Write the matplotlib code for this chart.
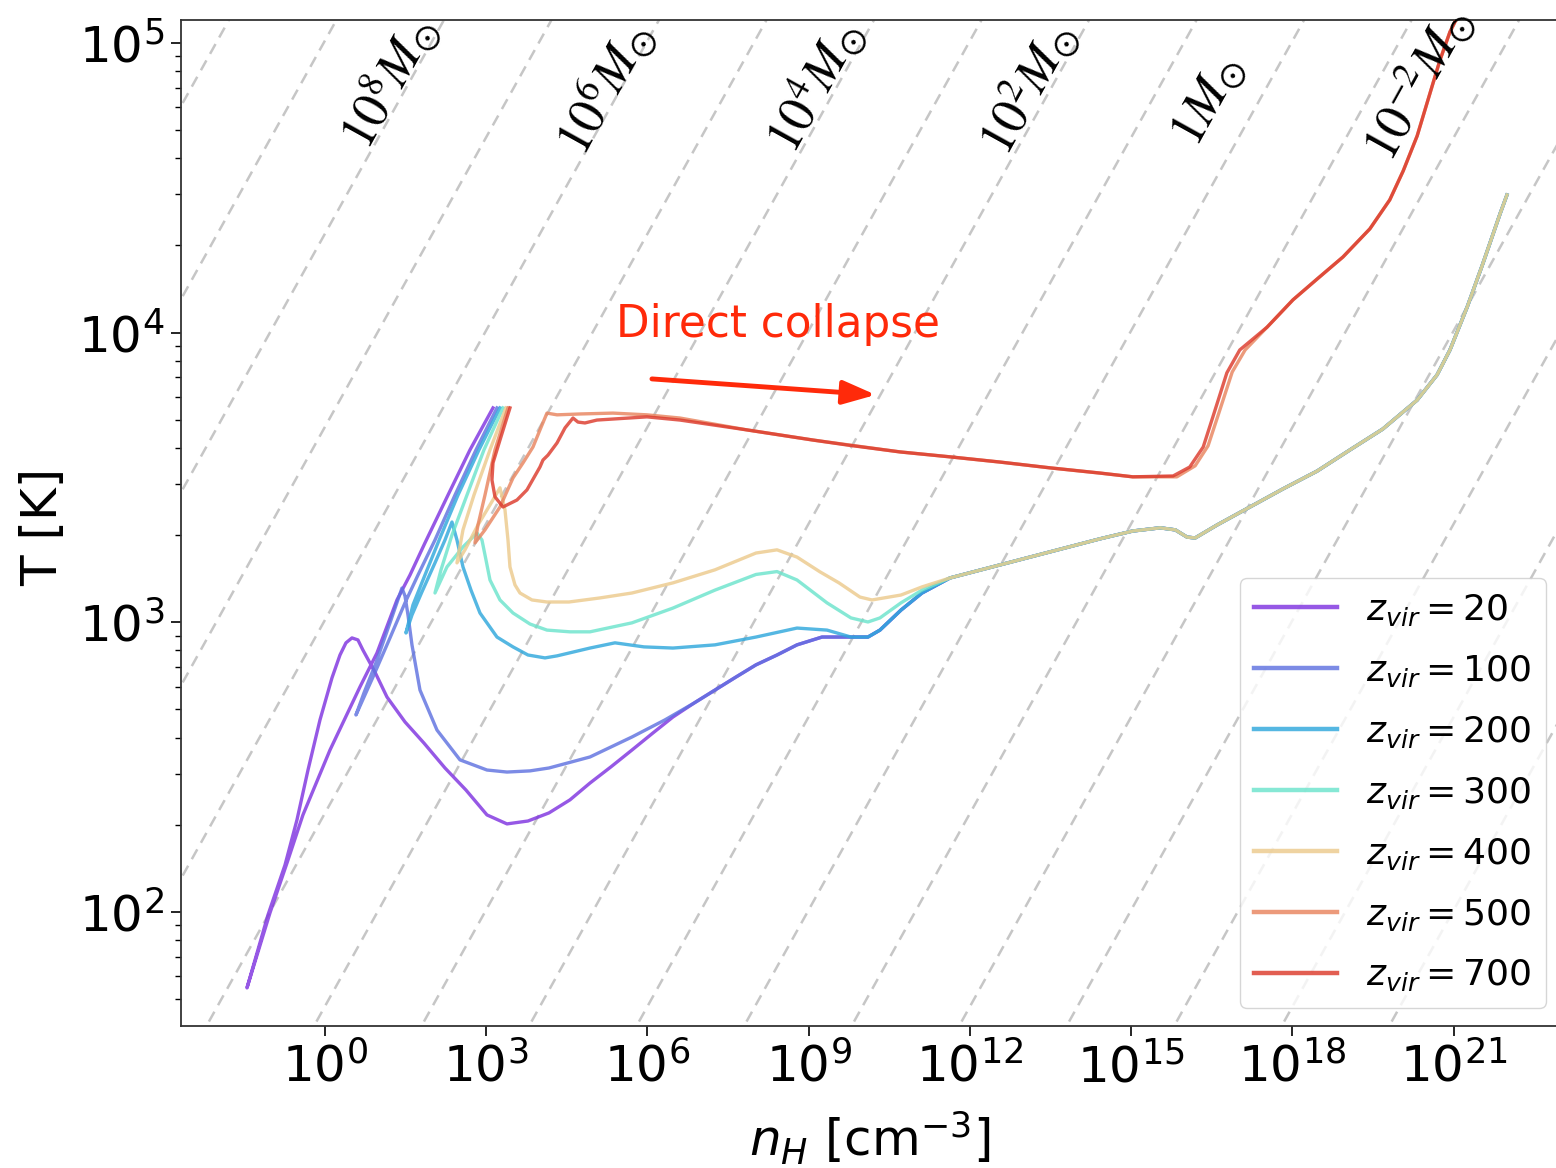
import numpy as np
import matplotlib
matplotlib.use('Agg')
import matplotlib.pyplot as plt
from matplotlib.ticker import NullLocator

# virialization redshifts and line colours
z_vir = [20, 100, 200, 300, 400, 500, 700]
colors = ['#7f33e0', '#5f72e0', '#2fa8dc', '#6ce4cc', '#ecca8c', '#e8845e', '#dc3a2c']

# early part of each track (log10 n_H [cm^-3], log10 T [K])
logn_z20 = [3.129, 2.701, 2.292, 1.864, 1.585, 1.343, 0.971, 0.655, 0.097, -0.406, -0.703, -1.019, -1.447,
            -1.056, -0.740, -0.517, -0.312, -0.089, 0.134, 0.283, 0.394, 0.506, 0.617, 0.710, 0.934, 1.157,
            1.492, 1.845, 2.236, 2.626, 3.017, 3.389, 3.780, 4.171, 4.561, 4.933, 5.324, 5.714, 6.105, 6.477,
            6.868, 7.258, 7.649, 8.021, 8.412, 8.784, 9.249, 9.788, 10.104, 10.327, 10.718, 11.109]
logT_z20 = [3.740, 3.595, 3.439, 3.274, 3.163, 3.077, 2.894, 2.777, 2.559, 2.335, 2.169, 1.997, 1.738,
            1.990, 2.162, 2.318, 2.490, 2.663, 2.808, 2.887, 2.929, 2.946, 2.939, 2.904, 2.828, 2.742,
            2.656, 2.583, 2.497, 2.421, 2.335, 2.304, 2.314, 2.342, 2.387, 2.445, 2.501, 2.559, 2.618, 2.673,
            2.721, 2.766, 2.811, 2.853, 2.887, 2.922, 2.949, 2.949, 2.949, 2.973, 3.042, 3.101]

logn_z100 = [3.203, 2.813, 2.422, 2.050, 1.734, 1.492, 1.213, 0.897, 0.580,
             0.729, 0.952, 1.213, 1.436, 1.492, 1.548, 1.622, 1.771, 2.087, 2.515, 3.017, 3.389, 3.817,
             4.171, 4.933, 5.714, 6.328, 6.868, 7.258, 7.649, 8.021, 8.412, 8.784, 9.249, 9.788, 10.104,
             10.327, 10.718, 11.109]
logT_z100 = [3.740, 3.595, 3.439, 3.284, 3.163, 3.067, 2.946, 2.811, 2.680,
             2.756, 2.860, 2.998, 3.118, 3.091, 3.025, 2.922, 2.766, 2.628, 2.525, 2.490, 2.483, 2.487,
             2.497, 2.535, 2.604, 2.663, 2.721, 2.766, 2.811, 2.853, 2.887, 2.922, 2.949, 2.949, 2.949,
             2.973, 3.042, 3.101]

logn_z200 = [3.259, 2.868, 2.478, 2.143, 1.864, 1.641, 1.510, 1.622, 1.808, 2.050, 2.236, 2.366, 2.459,
             2.571, 2.720, 2.887, 3.203, 3.501, 3.780, 4.096, 4.320, 4.933, 5.398, 5.938, 6.477, 7.258,
             8.021, 8.784, 9.342, 9.788, 10.104, 10.327, 10.718, 11.109]
logT_z200 = [3.740, 3.595, 3.439, 3.291, 3.163, 3.060, 2.963, 3.025, 3.105, 3.205, 3.284, 3.346, 3.284,
             3.191, 3.111, 3.032, 2.949, 2.915, 2.887, 2.877, 2.884, 2.911, 2.929, 2.915, 2.911, 2.922,
             2.949, 2.980, 2.973, 2.949, 2.949, 2.973, 3.042, 3.101]

logn_z300 = [3.315, 2.961, 2.645, 2.366, 2.162, 2.050, 2.273, 2.571, 2.831, 2.924, 2.999, 3.073, 3.259,
             3.501, 3.817, 4.133, 4.561, 4.933, 5.714, 6.477, 7.258, 8.021, 8.412, 8.784, 9.342, 9.788,
             10.104, 10.327, 10.718, 11.109]
logT_z300 = [3.740, 3.595, 3.439, 3.301, 3.181, 3.101, 3.191, 3.260, 3.308, 3.284, 3.215, 3.146, 3.077,
             3.032, 2.994, 2.973, 2.967, 2.967, 2.998, 3.049, 3.111, 3.165, 3.175, 3.146, 3.067, 3.015,
             3.001, 3.015, 3.067, 3.111]

logn_z400 = [3.371, 3.073, 2.775, 2.571, 2.459, 2.608, 2.850, 3.073, 3.259, 3.352, 3.408, 3.445, 3.538,
             3.631, 3.854, 4.133, 4.543, 5.119, 5.714, 6.477, 7.258, 8.021, 8.412, 8.784, 9.212, 9.565,
             9.955, 10.179, 10.718, 11.109]
logT_z400 = [3.740, 3.595, 3.439, 3.319, 3.205, 3.250, 3.336, 3.405, 3.464, 3.388, 3.284, 3.191, 3.129,
             3.101, 3.077, 3.070, 3.070, 3.084, 3.101, 3.136, 3.181, 3.239, 3.250, 3.225, 3.174, 3.136,
             3.087, 3.077, 3.094, 3.122]

logn_z500 = [3.408, 3.166, 2.980, 2.850, 2.794, 2.980, 3.259, 3.501, 3.687, 3.873, 4.003, 4.133, 4.320,
             4.747, 5.361, 5.993, 6.607, 7.853, 9.081, 10.70, 11.63, 12.56, 13.49, 14.42, 15.03, 15.85,
             16.19, 16.43, 16.62, 16.88, 17.12, 17.53, 18.01, 18.46, 18.94, 19.44, 19.81, 20.06, 20.32,
             20.56, 20.74, 20.93, 21.06]
logT_z500 = [3.740, 3.595, 3.439, 3.336, 3.274, 3.319, 3.398, 3.498, 3.550, 3.605, 3.664, 3.722, 3.716,
             3.719, 3.722, 3.716, 3.705, 3.664, 3.629, 3.588, 3.571, 3.553, 3.533, 3.515, 3.502, 3.502,
             3.540, 3.609, 3.716, 3.864, 3.940, 4.019, 4.113, 4.185, 4.261, 4.358, 4.458, 4.558, 4.679,
             4.827, 4.938, 5.038, 5.086]

logn_z700 = [3.445, 3.259, 3.129, 3.110, 3.166, 3.315, 3.575, 3.761, 4.003, 4.059, 4.152, 4.320, 4.469,
             4.617, 4.710, 4.840, 5.063, 5.993, 6.607, 7.853, 9.081, 9.714]
logT_z700 = [3.740, 3.629, 3.550, 3.491, 3.433, 3.398, 3.422, 3.457, 3.536, 3.560, 3.577, 3.619, 3.671,
             3.705, 3.691, 3.688, 3.698, 3.709, 3.698, 3.664, 3.629, 3.612]

# shared high density part of the H2-cooling runs (z_vir = 20 ... 400)
cool_tail_logn = [11.63, 12.56, 13.49, 14.42, 15.03, 15.54, 15.82, 16.04, 16.19, 16.60, 17.21, 17.82,
                  18.46, 19.07, 19.68, 20.32, 20.69, 20.93, 21.25, 21.54, 21.86, 21.99]
cool_tail_logT = [3.153, 3.198, 3.243, 3.288, 3.315, 3.326, 3.319, 3.294, 3.291, 3.336, 3.398, 3.460,
                  3.522, 3.595, 3.667, 3.767, 3.854, 3.940, 4.088, 4.237, 4.409, 4.475]

# direct collapse run (z_vir = 700) at high density
dc_tail_logn = [10.70, 11.63, 12.56, 13.49, 14.42, 15.03, 15.78, 16.09, 16.34, 16.52, 16.78, 17.02,
                17.53, 18.01, 18.46, 18.94, 19.44, 19.81, 20.06, 20.32, 20.56, 20.74, 20.93, 21.06]
dc_tail_logT = [3.588, 3.571, 3.553, 3.533, 3.515, 3.502, 3.505, 3.536, 3.605, 3.709, 3.861, 3.940,
                4.019, 4.113, 4.185, 4.261, 4.358, 4.458, 4.558, 4.679, 4.827, 4.938, 5.038, 5.086]

curves = [
    (logn_z20 + cool_tail_logn, logT_z20 + cool_tail_logT),
    (logn_z100 + cool_tail_logn, logT_z100 + cool_tail_logT),
    (logn_z200 + cool_tail_logn, logT_z200 + cool_tail_logT),
    (logn_z300 + cool_tail_logn, logT_z300 + cool_tail_logT),
    (logn_z400 + cool_tail_logn, logT_z400 + cool_tail_logT),
    (logn_z500, logT_z500),
    (logn_z700 + dc_tail_logn, logT_z700 + dc_tail_logT),
]

# Jeans mass guide lines, M_J = 10**K * T^1.5 * n^-0.5 [Msun]
jeans_K = 1.49
jeans_exps = list(range(-6, 15))
mass_label_exps = [8, 6, 4, 2, 0, -2]
mass_label_logn = [1.175, 5.197, 9.103, 13.06, 16.43, 20.32]
mass_label_logT = [4.865, 4.844, 4.851, 4.844, 4.799, 4.862]

xtick_exps = [0, 3, 6, 9, 12, 15, 18, 21]

fig, ax = plt.subplots(figsize=(15.56, 11.68), dpi=100)
fig.subplots_adjust(left=0.1163, right=1.0051, bottom=0.1216, top=0.9829)

n_grid = np.logspace(-4, 25, 60)
for m in jeans_exps:
    T_line = (10.0**(m - jeans_K) * n_grid**0.5)**(2.0 / 3.0)
    ax.plot(n_grid, T_line, color='#c6c6c6', lw=1.8, ls=(0, (4.5, 3)), zorder=1)

for z, (ln, lt), c in zip(z_vir, curves, colors):
    ax.plot(10**np.array(ln), 10**np.array(lt), color=c, lw=2.4, alpha=0.82,
            label=rf'$z_{{vir}} = {z}$', zorder=3)

for m, lx, ly in zip(mass_label_exps, mass_label_logn, mass_label_logT):
    s = r'$1M_{\odot}$' if m == 0 else rf'$10^{{{m}}}M_{{\odot}}$'
    ax.text(10**lx, 10**ly, s, rotation=61, ha='center', va='center', fontsize=37,
            math_fontfamily='stix', clip_on=False, zorder=4)

ax.text(10**8.43, 10**4.028, 'Direct collapse', color='#ff2a0a', fontsize=31.5,
        ha='center', va='center')
ax.annotate('', xy=(10**10.25, 10**3.785), xytext=(10**6.086, 10**3.840),
            arrowprops=dict(arrowstyle='-|>,head_length=1.0,head_width=0.36', color='#ff2a0a',
                            lw=3.5, mutation_scale=20, shrinkA=0, shrinkB=0))

ax.set_xscale('log')
ax.set_yscale('log')
ax.set_xlim(10**-2.675, 10**23.05)
ax.set_ylim(10**1.6065, 10**5.079)

ax.set_xticks([10.0**e for e in xtick_exps])
ax.set_xticklabels([rf'$10^{{{e}}}$' for e in xtick_exps])
ax.xaxis.set_minor_locator(NullLocator())

ax.tick_params(which='major', labelsize=36, length=7, width=1.2, pad=5)
ax.tick_params(which='minor', length=4, width=1.0)
for sp in ax.spines.values():
    sp.set_linewidth(1.3)
    sp.set_color('#333333')

ax.set_xlabel(r'$n_H$ [cm$^{-3}$]', fontsize=36)
ax.xaxis.set_label_coords(0.498, -0.083)
ax.set_ylabel('T [K]', fontsize=36)
ax.yaxis.set_label_coords(-0.082, 0.496)

leg = ax.legend(loc='lower right', fontsize=26, handlelength=2.3, labelspacing=0.69,
                framealpha=0.8, edgecolor='#cccccc')
for h in leg.get_lines():
    h.set_linewidth(3.2)

fig.savefig('out.png', dpi=100, facecolor='white')
